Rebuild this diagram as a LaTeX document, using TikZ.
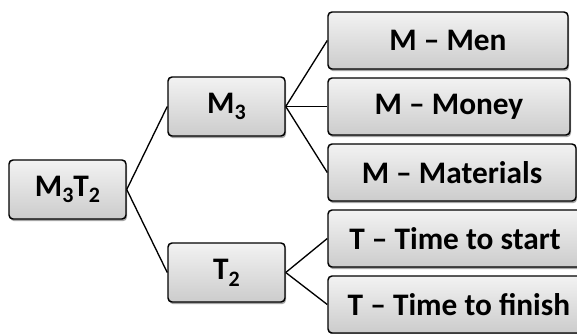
\documentclass[tikz,border=0pt]{standalone}
\usepackage{fontspec}
\setmainfont{Carlito}
\usetikzlibrary{shadows}
\newcommand{\sbx}[1]{\raisebox{-5pt}{\fontsize{16.5pt}{16.5pt}\selectfont #1}}
\tikzset{
  boxnode/.style={draw=black, line width=1.1pt, rounded corners=3pt,
    top color=gray!10, bottom color=gray!40, inner sep=0pt,
    font=\fontsize{23.5pt}{26pt}\selectfont\bfseries,
    drop shadow={shadow xshift=0.8pt, shadow yshift=-1.6pt, fill=black, opacity=0.35}},
  link/.style={draw=black, line width=1pt}
}
\begin{document}
\begin{tikzpicture}[x=0.75pt,y=-0.75pt]
\useasboundingbox (0,0) rectangle (577,333);
\clip (0,0) rectangle (577,333);
\node[boxnode, minimum width=87.75pt, minimum height=44.25pt] (root) at (67.5,189.5) {M\sbx{3}T\sbx{2}};
\node[boxnode, minimum width=87.75pt, minimum height=44.25pt] (m3) at (226.5,106.5) {M\sbx{3}};
\node[boxnode, minimum width=87.75pt, minimum height=44.25pt] (t2) at (226.5,272.5) {T\sbx{2}};
\node[boxnode, minimum width=180pt, minimum height=42.75pt] (men) at (448,40.5) {M – Men};
\node[boxnode, minimum width=181.5pt, minimum height=42.75pt] (money) at (449,106.5) {M – Money};
\node[boxnode, minimum width=186pt, minimum height=42.75pt] (mat) at (452,172.5) {M – Materials};
\node[boxnode, minimum width=190.5pt, minimum height=42.75pt] (start) at (455,238.5) {T – Time to start};
\node[boxnode, minimum width=196.5pt, minimum height=42.75pt] (finish) at (459,304.5) {T – Time to finish};
\draw[link] (root.east) -- (m3.west);
\draw[link] (root.east) -- (t2.west);
\draw[link] (m3.east) -- (men.west);
\draw[link] (m3.east) -- (money.west);
\draw[link] (m3.east) -- (mat.west);
\draw[link] (t2.east) -- (start.west);
\draw[link] (t2.east) -- (finish.west);
\end{tikzpicture}
\end{document}
